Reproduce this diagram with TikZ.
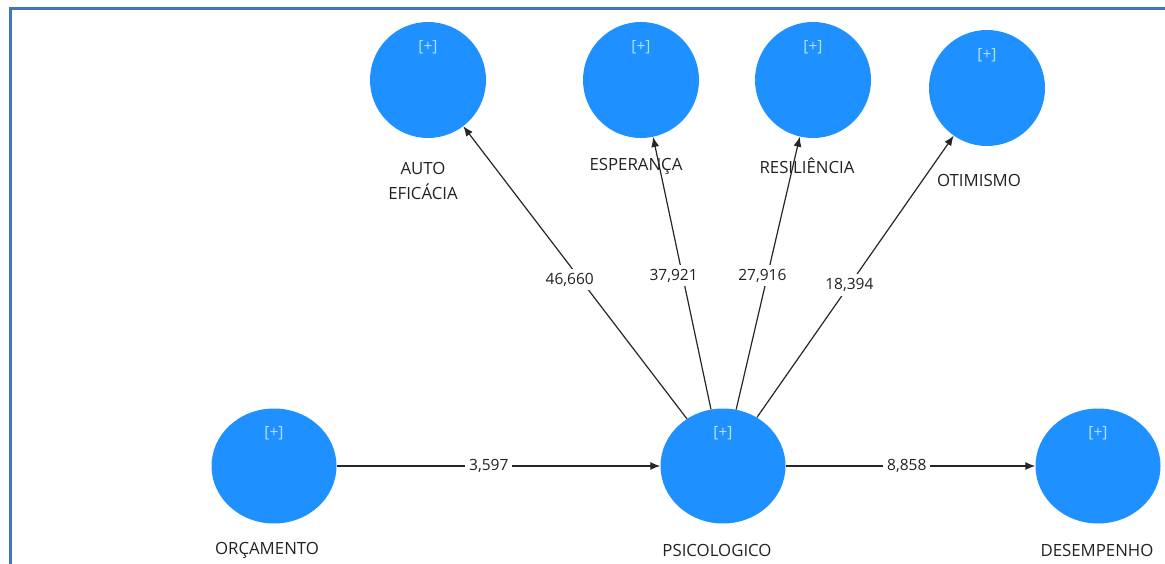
\documentclass[tikz,border=0pt]{standalone}
\usepackage{fontspec}
\setmainfont{Open Sans}
\usetikzlibrary{shapes.geometric,arrows.meta}
\definecolor{lvblue}{RGB}{30,144,255}
\definecolor{plusblue}{RGB}{180,228,255}
\definecolor{framebl}{RGB}{68,114,196}
\definecolor{txt}{RGB}{34,34,34}
\tikzset{
  latent/.style={ellipse, fill=lvblue, inner sep=0pt, minimum width=116pt, minimum height=116pt,
    label={[font=\fontsize{15.5}{17}\selectfont, text=plusblue, yshift=33pt]center:[+]}},
  widelv/.style={minimum width=125pt, minimum height=115pt},
  lvname/.style={font=\fontsize{16.8}{25}\selectfont, text=txt, align=center, inner sep=0pt},
  sempath/.style={draw=black!85, line width=1.2pt, -{Latex[length=10pt,width=8pt]}},
  coef/.style={font=\fontsize{15.5}{17}\selectfont, text=txt, fill=white, inner sep=4pt}
}
\begin{document}
\begin{tikzpicture}[x=1pt,y=-1pt]
\useasboundingbox (0,0) rectangle (1165,564);
% outer frame, running off the right and bottom edges
\draw[framebl, line width=3pt] (10,570) -- (10,9) -- (1175,9);

% latent variables
\node[latent] (auto) at (428,80) {};
\node[latent] (esp)  at (641,80) {};
\node[latent] (res)  at (813,80) {};
\node[latent] (oti)  at (987,88) {};
\node[latent,widelv] (orc) at (274,466) {};
\node[latent,widelv] (psi) at (723,466) {};
\node[latent,widelv] (des) at (1098,466) {};

% names
\node[lvname] (nauto) at (423,181) {AUTO\\EFICÁCIA};
\node[lvname] (nesp)  at (636,166) {ESPERANÇA};
\node[lvname] (nres)  at (807,166) {RESILIÊNCIA};
\node[lvname] (noti)  at (979,180) {OTIMISMO};
\node[lvname] (norc)  at (267,550) {ORÇAMENTO};
\node[lvname] (npsi)  at (717,550) {PSICOLOGICO};
\node[lvname] (ndes)  at (1097,550) {DESEMPENHO};

% structural paths with t values
\draw[sempath] (psi) -- node[coef, pos=0.475, xshift=-11pt] {46,660} (auto);
\draw[sempath] (psi) -- node[coef, pos=0.49, xshift=-9pt] {37,921} (esp);
\draw[sempath] (psi) -- node[coef, pos=0.49, xshift=-5pt] {27,916} (res);
\draw[sempath] (psi) -- node[coef, pos=0.47] {18,394} (oti);
\draw[sempath] (orc) -- node[coef, pos=0.47] {3,597} (psi);
\draw[sempath] (psi) -- node[coef, pos=0.485] {8,858} (des);
\end{tikzpicture}
\end{document}
